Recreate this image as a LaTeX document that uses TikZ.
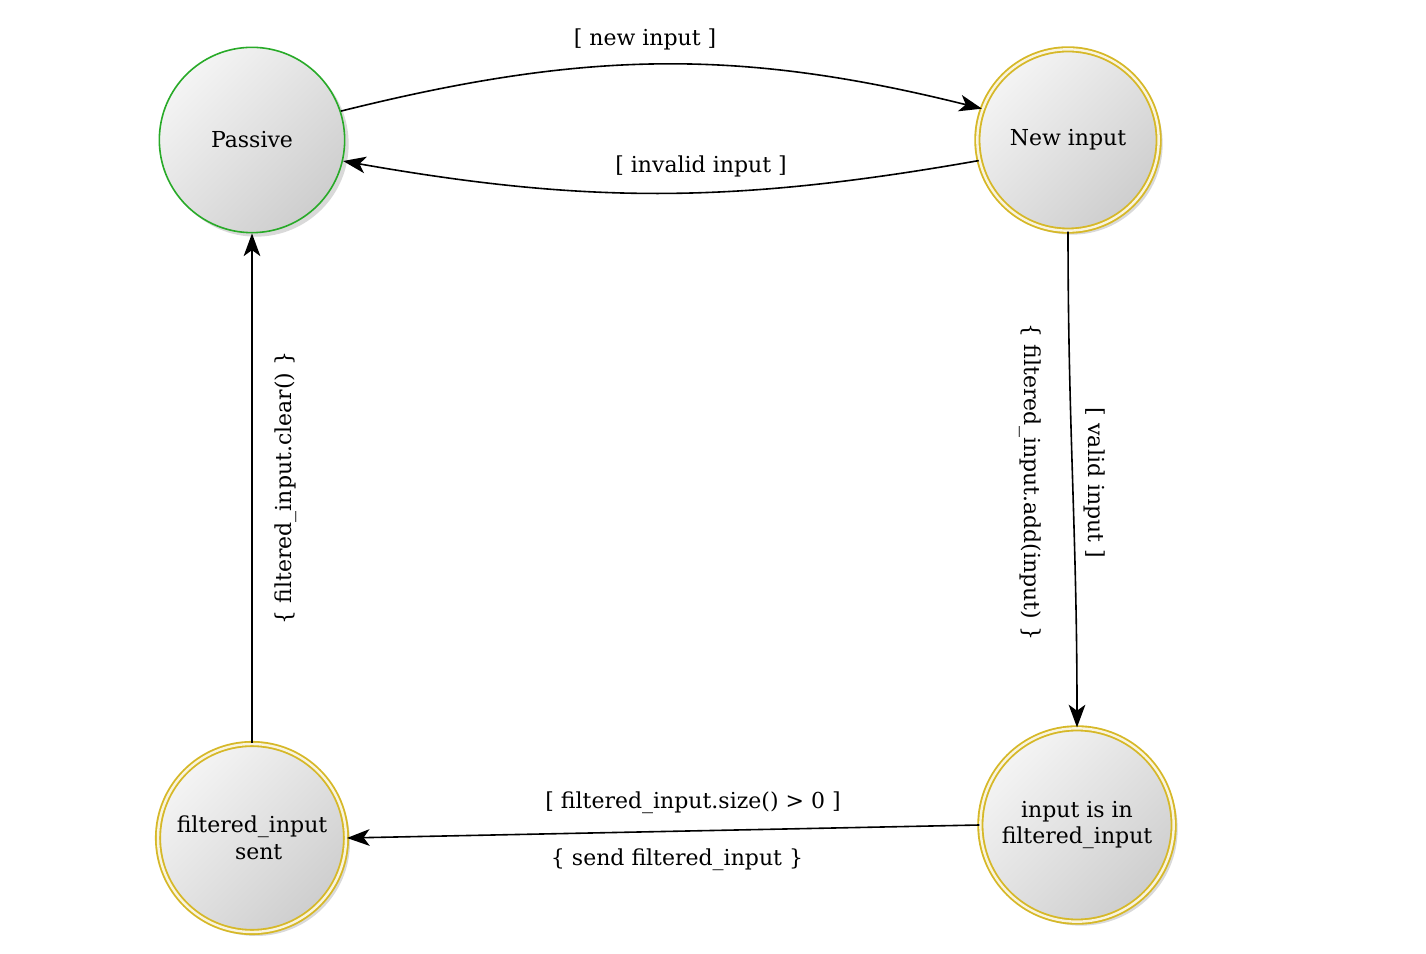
\documentclass[tikz,border=0pt]{standalone}
\usepackage{fontspec}
\setmainfont{DejaVu Serif}
\usetikzlibrary{arrows.meta,shadows,positioning}
\definecolor{stgreen}{RGB}{40,170,40}
\definecolor{stgold}{RGB}{214,184,40}
\definecolor{stlight}{RGB}{244,244,244}
\definecolor{stdark}{RGB}{206,206,206}
\tikzset{
  state/.style={circle, inner sep=0pt, align=center,
    top color=stlight, bottom color=stdark, shading angle=45,
    drop shadow={shadow xshift=3pt, shadow yshift=-3pt, opacity=0.3},
    font=\fontsize{16.5}{20}\selectfont},
  startstate/.style={state, draw=stgreen, line width=1.2pt},
  goldstate/.style={state, draw=stgold, line width=1.4pt, double=stgold!15, double distance=1.8pt},
  trans/.style={draw=black, line width=1.2pt, -{Stealth[length=17pt,width=12.5pt,inset=4.5pt]}},
  lbl/.style={font=\fontsize{16.5}{20}\selectfont, inner sep=1pt}
}
\begin{document}
\begin{tikzpicture}[x=0.75pt,y=0.75pt]
\useasboundingbox (0,0) rectangle (1426,953);
\node[startstate, minimum size=139pt] (p) at (252,813) {Passive};
\node[goldstate, minimum size=136pt] (n) at (1068,813) {New input};
\node[goldstate, minimum size=145pt] (i) at (1077,128) {input is in\\filtered\_input};
\node[goldstate, minimum size=141pt] (f) at (252,115) {filtered\_input\\\hspace*{10pt}sent};

\draw[trans] (p.18) to[out=14,in=166] (n.160);
\draw[trans] (n.193) to[out=190,in=350] (p.347);
\draw[trans] (n.south) to[out=-90,in=90] (i.north);
\draw[trans] (i.west) -- (f.east);
\draw[trans] (f.north) -- (p.south);

\node[lbl] (l1) at (645,914) {[ new input ]};
\node[lbl] (l2) at (701,787) {[ invalid input ]};
\node[lbl, rotate=-90] (l3) at (1095,470) {[ valid input ]};
\node[lbl, rotate=-90] (l4) at (1030,471) {\{ filtered\_input.add(input) \}};
\node[lbl] (l5) at (693,150) {[ filtered\_input.size() > 0 ]};
\node[lbl] (l6) at (677,93) {\{ send filtered\_input \}};
\node[lbl, rotate=90] (l7) at (286,465) {\{ filtered\_input.clear() \}};
\end{tikzpicture}
\end{document}
